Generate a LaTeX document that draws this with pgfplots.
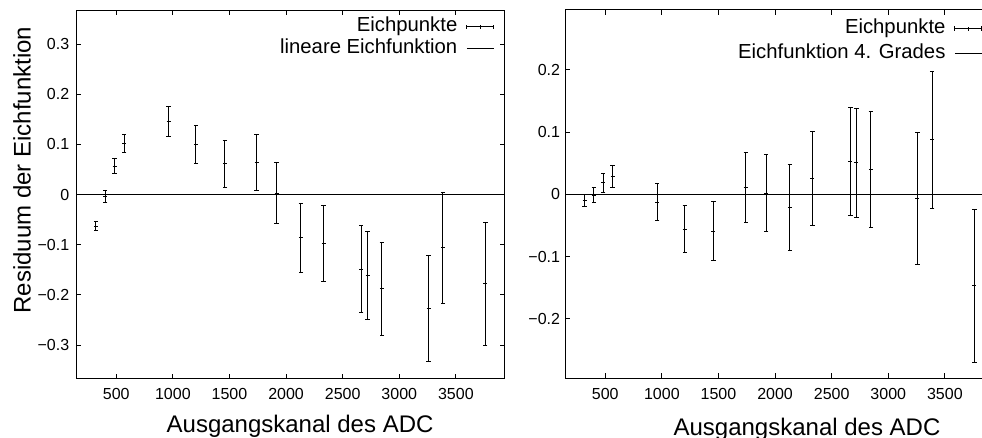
\documentclass[border=0pt]{standalone}
\usepackage{fontspec}
\setmainfont{Liberation Sans}
\usepackage{pgfplots}
\usepackage{pgfplotstable}
\pgfplotsset{compat=1.18}
\pgfplotstableread{
x y e
321 -0.063 0.0095
403 -0.004 0.0117
486 0.057 0.015
571 0.1025 0.018
963 0.146 0.030
1204 0.1005 0.038
1460 0.061 0.047
1740 0.064 0.056
1917 0.003 0.0615
2131 -0.086 0.069
2332 -0.097 0.0758
2664 -0.149 0.0867
2721 -0.161 0.0882
2847 -0.188 0.093
3260 -0.2275 0.106
3386 -0.106 0.1105
3760 -0.178 0.123
}\lin
\pgfplotstableread{
x y e
318 -0.010 0.0095
400 -0.001 0.0117
482 0.0185 0.015
565 0.0286 0.018
959 -0.0125 0.030
1202 -0.056 0.038
1455 -0.059 0.047
1741 0.011 0.056
1921 0.002 0.0615
2130 -0.021 0.069
2330 0.026 0.0758
2666 0.0533 0.0867
2719 0.0506 0.0882
2846 0.0405 0.093
3258 -0.006 0.106
3388 0.0876 0.1105
3760 -0.1465 0.123
}\poly
\pgfplotsset{
  gp/.style={
    scale only axis, width=214.35pt,
    xmin=147, xmax=3934,
    axis line style={line width=0.5pt, black},
    tick align=inside, major tick length=2.5pt,
    every tick/.style={line width=0.5pt, black},
    xtick={500,1000,...,3500},
    xticklabels={500,1000,1500,2000,2500,3000,3500},
    tick label style={font=\fontsize{8}{9.6}\selectfont},
    xticklabel style={yshift=-1.3pt},
    xlabel style={font=\fontsize{12}{14}\selectfont, anchor=base},
    ylabel style={font=\fontsize{12}{14}\selectfont},
    legend plot pos=right,
    legend cell align=right,
    legend style={draw=none, fill=none, font=\fontsize{10.15}{12}\selectfont,
      row sep=0pt, column sep=4pt, inner sep=0pt},
    clip=true,
  },
  ebar/.style={black, line width=0.5pt, only marks, mark=+, mark size=1pt,
    mark options={line width=0.5pt},
    error bars/.cd, y dir=both, y explicit,
    error mark=-,
    error bar style={line width=0.5pt, black},
    error mark options={rotate=90, line width=0.5pt, mark size=1.1pt, black},
    /pgfplots/.cd},
  ebarleg/.style={legend image code/.code={
    \draw[line width=0.5pt] (0pt,0pt) -- (13.5pt,0pt);
    \draw[line width=0.5pt] (0pt,-1.1pt) -- (0pt,1.1pt);
    \draw[line width=0.5pt] (13.5pt,-1.1pt) -- (13.5pt,1.1pt);
    \draw[line width=0.5pt] (6.75pt,-1pt) -- (6.75pt,1pt);}},
  lineleg/.style={legend image code/.code={
    \draw[line width=0.5pt] (0pt,0pt) -- (13.5pt,0pt);}},
}
\begin{document}
\begin{tikzpicture}
\begin{axis}[gp,
  at={(38.15pt,29.65pt)}, anchor=south west,
  height=184.35pt,
  ymin=-0.367, ymax=0.368,
  ytick={-0.3,-0.2,-0.1,0,0.1,0.2,0.3},
  yticklabels={−0.3,−0.2,−0.1,0,0.1,0.2,0.3},
  xlabel={Ausgangskanal des ADC},
  xlabel style={at={(axis description cs:0.522,-0.1446)}},
  ylabel={Residuum der Eichfunktion},
  ylabel style={at={(axis description cs:-0.1267,0.566)}, anchor=center, rotate=0},
  legend style={at={(axis description cs:0.976,0.985)}, anchor=north east,
    nodes={text height=7.4pt, text depth=2.4pt, inner sep=0.5pt}},
]
\addplot[ebarleg, ebar] table[x=x, y=y, y error=e] {\lin};
\addlegendentry{Eichpunkte}
\addplot[lineleg, black, line width=0.5pt] coordinates {(147,0) (3934,0)};
\addlegendentry{lineare Eichfunktion}
\end{axis}
\begin{axis}[gp,
  at={(282.65pt,29.85pt)}, anchor=south west,
  height=184.2pt,
  ymin=-0.2953, ymax=0.2964,
  ytick={-0.2,-0.1,0,0.1,0.2},
  yticklabels={−0.2,−0.1,0,0.1,0.2},
  yticklabel style={xshift=0.9pt},
  xlabel={Ausgangskanal des ADC},
  xlabel style={at={(axis description cs:0.5638,-0.154)}},
  legend style={at={(axis description cs:0.974,0.985)}, anchor=north east,
    nodes={text height=8.3pt, text depth=3.4pt, inner sep=0.5pt}},
]
\addplot[ebarleg, ebar] table[x=x, y=y, y error=e] {\poly};
\addlegendentry{Eichpunkte}
\addplot[lineleg, black, line width=0.5pt] coordinates {(147,0) (3934,0)};
\addlegendentry{Eichfunktion 4. Grades}
\end{axis}
\pgfresetboundingbox
\path[use as bounding box] (0,0) rectangle (491pt,219pt);
\end{tikzpicture}
\end{document}
